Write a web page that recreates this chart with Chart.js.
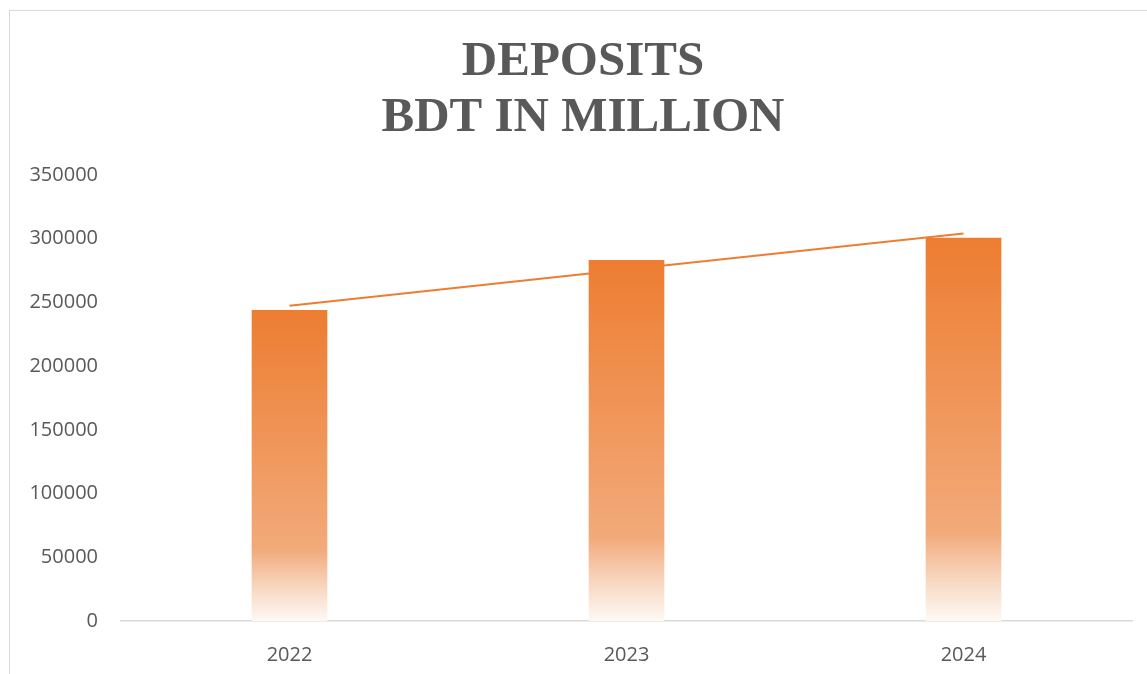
<!DOCTYPE html>
<html>
<head>
<meta charset="utf-8">
<title>Deposits</title>
<script src="https://cdn.jsdelivr.net/npm/chart.js@4/dist/chart.umd.min.js"></script>
<style>
    html, body { margin: 0; padding: 0; background: #fff; overflow: hidden; }
    #wrap { position: relative; width: 1147px; height: 674px; }
    #frame {
        position: absolute; left: 9px; top: 10px;
        width: 1200px; height: 700px;
        border: 1px solid #d9d9d9; box-sizing: border-box;
    }
    canvas { position: absolute; left: 0; top: 0; }
</style>
</head>
<body>
<div id="wrap">
    <div id="frame"></div>
    <canvas id="chart" width="1147" height="674"></canvas>
</div>
<script>
// Deposits, BDT in million
const years = ['2022', '2023', '2024'];
const deposits = [243800, 283100, 300400];
const yTicks = [0, 50000, 100000, 150000, 200000, 250000, 300000, 350000];
const titleLines = ['DEPOSITS', 'BDT IN MILLION'];

const ORANGE = '#ED7D31';
const TEXT_GREY = '#595959';
const AXIS_GREY = '#d9d9d9';

// Linear (least squares) trendline over the year index
function linearTrend(values) {
    const n = values.length;
    const xs = values.map((_, i) => i + 1);
    const mx = xs.reduce((a, b) => a + b, 0) / n;
    const my = values.reduce((a, b) => a + b, 0) / n;
    let num = 0, den = 0;
    xs.forEach((x, i) => {
        num += (x - mx) * (values[i] - my);
        den += (x - mx) * (x - mx);
    });
    const slope = num / den;
    return xs.map(x => my + slope * (x - mx));
}

// Bar fill fades from solid orange at the top to near white at the base
function barGradient(context) {
    const chart = context.chart;
    const area = chart.chartArea;
    if (!area) return ORANGE;
    const yScale = chart.scales.y;
    const top = yScale.getPixelForValue(deposits[context.dataIndex]);
    const base = yScale.getPixelForValue(0);
    const g = chart.ctx.createLinearGradient(0, top, 0, base);
    g.addColorStop(0, '#ED7D31');
    g.addColorStop(0.77, '#F2AA7A');
    g.addColorStop(0.89, '#F8D6BF');
    g.addColorStop(1, '#FEF9F5');
    return g;
}

// Two-line title centred on the outer chart frame rather than the plot
const frameTitle = {
    id: 'frameTitle',
    afterDraw(chart) {
        const ctx = chart.ctx;
        ctx.save();
        ctx.fillStyle = TEXT_GREY;
        ctx.font = "bold 49px 'Liberation Serif', 'Times New Roman', serif";
        ctx.textAlign = 'center';
        ctx.textBaseline = 'alphabetic';
        titleLines.forEach((line, i) => ctx.fillText(line, 583, 75 + i * 56));
        ctx.restore();
    }
};

new Chart(document.getElementById('chart'), {
    type: 'bar',
    data: {
        labels: years,
        datasets: [
            {
                type: 'bar',
                label: 'Deposits',
                data: deposits,
                backgroundColor: barGradient,
                borderWidth: 0,
                barThickness: 75,
                order: 1
            },
            {
                type: 'line',
                label: 'Linear (Deposits)',
                data: linearTrend(deposits),
                borderColor: ORANGE,
                borderWidth: 2,
                pointRadius: 0,
                fill: false,
                tension: 0,
                order: 2
            }
        ]
    },
    plugins: [frameTitle],
    options: {
        responsive: false,
        animation: false,
        layout: {
            padding: { top: 175, left: 0, right: 15, bottom: -15 }
        },
        plugins: {
            legend: { display: false },
            tooltip: { enabled: false },
            title: { display: false }
        },
        scales: {
            x: {
                grid: { display: false, drawTicks: false },
                border: { display: true, color: AXIS_GREY, width: 1.5 },
                ticks: {
                    color: TEXT_GREY,
                    padding: 22,
                    font: { family: "'Open Sans', sans-serif", size: 20 }
                }
            },
            y: {
                min: 0,
                max: 350000,
                afterBuildTicks: axis => {
                    axis.ticks = yTicks.map(v => ({ value: v }));
                },
                afterFit: axis => { axis.width = 121; },
                grid: { display: false, drawTicks: false },
                border: { display: false },
                ticks: {
                    color: TEXT_GREY,
                    padding: 23,
                    font: { family: "'Open Sans', sans-serif", size: 20 },
                    callback: value => String(value)
                }
            }
        }
    }
});
</script>
</body>
</html>
